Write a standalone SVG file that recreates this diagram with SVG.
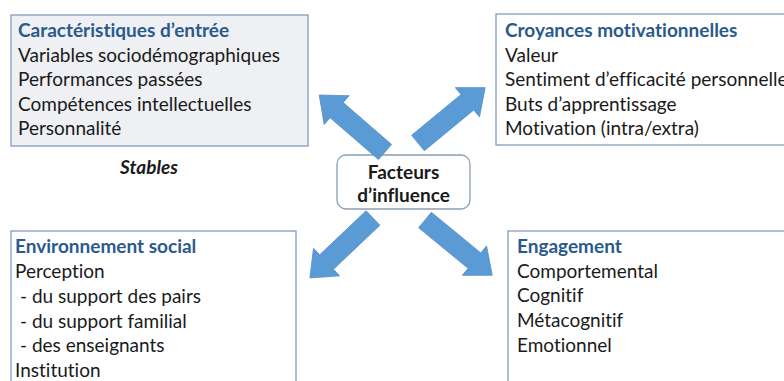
<svg xmlns="http://www.w3.org/2000/svg" width="784" height="381" viewBox="0 0 784 381">
  <defs>
    <style>
      text { font-family: Lato, "Liberation Sans", sans-serif; font-size: 19px; font-variant-ligatures: none; font-feature-settings: "liga" 0; }
      .box { fill: #ffffff; stroke: #7f9dc0; stroke-width: 1.3; }
      .box.grey { fill: #eef0f4; }
      .title { font-weight: bold; fill: #2a5a8c; }
      .item { fill: #1a1a1a; }
      .centre { font-weight: bold; fill: #1a1a1a; text-anchor: middle; }
      .arrow { fill: #5b9bd5; stroke: #5691cc; stroke-width: 0.8; }
    </style>
    <path id="blockArrow" d="M0,-10 L64,-10 L64,-19 L87,0 L64,19 L64,10 L0,10 Z"/>
  </defs>

  <rect width="784" height="381" fill="#ffffff"/>

  <g id="caracteristiques">
    <rect class="box grey" x="11" y="15" width="297" height="131"/>
    <text class="title" x="18" y="37">Caractéristiques d’entrée</text>
    <text class="item" x="18" y="62">Variables sociodémographiques</text>
    <text class="item" x="18" y="86">Performances passées</text>
    <text class="item" x="18" y="111">Compétences intellectuelles</text>
    <text class="item" x="18" y="135">Personnalité</text>
  </g>

  <g id="stables">
    <text x="149" y="174" style="font-weight: bold; font-style: italic; fill: #1a1a1a; text-anchor: middle;">Stables</text>
  </g>

  <g id="croyances">
    <rect class="box" x="496" y="14" width="300" height="131"/>
    <text class="title" x="505" y="37">Croyances motivationnelles</text>
    <text class="item" x="505" y="62">Valeur</text>
    <text class="item" x="505" y="86">Sentiment d’efficacité personnelle</text>
    <text class="item" x="505" y="111">Buts d’apprentissage</text>
    <text class="item" x="505" y="135">Motivation (intra/extra)</text>
  </g>

  <g id="environnement">
    <rect class="box" x="11" y="231" width="285" height="160"/>
    <text class="title" x="15" y="253">Environnement social</text>
    <text class="item" x="15" y="278">Perception</text>
    <text class="item" x="20" y="303">- du support des pairs</text>
    <text class="item" x="20" y="328">- du support familial</text>
    <text class="item" x="20" y="352">- des enseignants</text>
    <text class="item" x="15" y="377">Institution</text>
  </g>

  <g id="engagement">
    <rect class="box" x="508" y="231" width="290" height="160"/>
    <text class="title" x="517" y="253">Engagement</text>
    <text class="item" x="517" y="278">Comportemental</text>
    <text class="item" x="517" y="302">Cognitif</text>
    <text class="item" x="517" y="327">Métacognitif</text>
    <text class="item" x="517" y="352">Emotionnel</text>
  </g>

  <g id="facteurs">
    <rect x="337" y="155" width="133" height="54" rx="9" ry="9" fill="#ffffff" stroke="#8a9db3" stroke-width="1.3"/>
    <text class="centre" x="403.5" y="179">Facteurs</text>
    <text class="centre" x="403.5" y="202">d’influence</text>
  </g>

  <g id="connectors">
    <use class="arrow" href="#blockArrow" transform="translate(385,152) rotate(-139.1)"/>
    <use class="arrow" href="#blockArrow" transform="translate(418,143) rotate(-39.5)"/>
    <use class="arrow" href="#blockArrow" transform="translate(373,218) rotate(136.5)"/>
    <use class="arrow" href="#blockArrow" transform="translate(425,220) rotate(39.4)"/>
  </g>
</svg>
